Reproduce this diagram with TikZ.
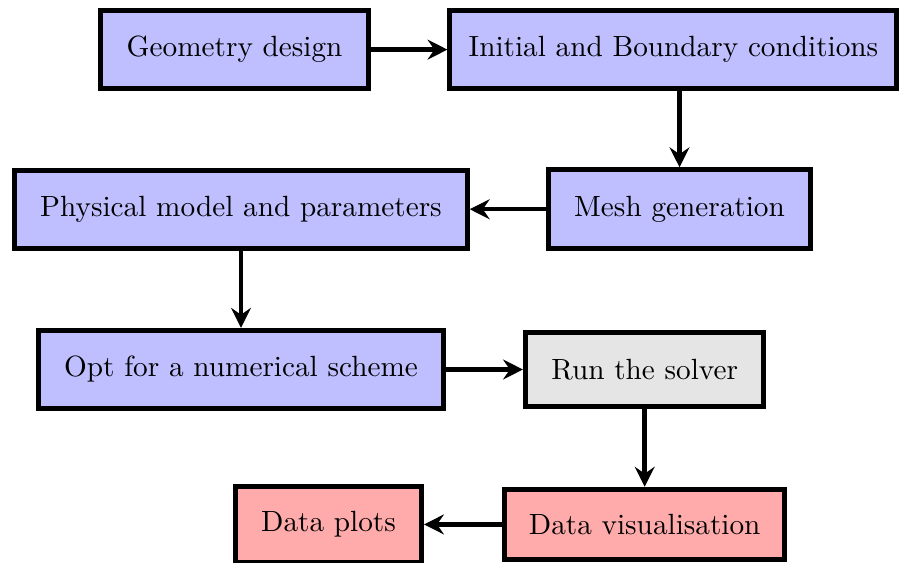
\documentclass[tikz,border=0pt]{standalone}
\usepackage{tikz}
\usetikzlibrary{arrows.meta,positioning}

\begin{document}
\begin{tikzpicture}[font=\fontsize{10.3pt}{12pt}\selectfont,
  stepbox/.style={draw, line width=1.75pt, align=center, inner sep=0pt},
  bluebox/.style={stepbox, fill=blue!25},
  graybox/.style={stepbox, fill=gray!20},
  redbox/.style={stepbox, fill=red!33},
  flow/.style={-{Stealth[length=7pt, width=7pt, inset=2.4pt]}, line width=1.55pt}
]
\useasboundingbox (0,0) rectangle (11.136,-6.966);

% Steps
\node[bluebox, minimum width=3.316cm, minimum height=0.965cm] (geo) at (2.903,-0.614) {Geometry design};
\node[bluebox, minimum width=5.531cm, minimum height=0.965cm] (ibc) at (8.333,-0.614) {Initial and Boundary conditions};
\node[bluebox, minimum width=3.242cm, minimum height=0.977cm] (mesh) at (8.408,-2.589) {Mesh generation};
\node[bluebox, minimum width=5.599cm, minimum height=0.965cm] (phys) at (2.982,-2.589) {Physical model and parameters};
\node[bluebox, minimum width=5.011cm, minimum height=0.971cm] (opt) at (2.982,-4.572) {Opt for a numerical scheme};
\node[graybox, minimum width=2.951cm, minimum height=0.916cm] (run) at (7.977,-4.572) {Run the solver};
\node[redbox, minimum width=3.471cm, minimum height=0.872cm] (dvis) at (7.977,-6.489) {Data visualisation};
\node[redbox, minimum width=2.301cm, minimum height=0.940cm] (dplot) at (4.065,-6.489) {Data plots};

% Flow
\draw[flow] (geo) -- (ibc);
\draw[flow] (ibc.south -| mesh.north) -- (mesh.north);
\draw[flow] (mesh) -- (phys);
\draw[flow] (phys) -- (opt);
\draw[flow] (opt) -- (run);
\draw[flow] (run) -- (dvis);
\draw[flow] (dvis) -- (dplot);
\end{tikzpicture}
\end{document}
